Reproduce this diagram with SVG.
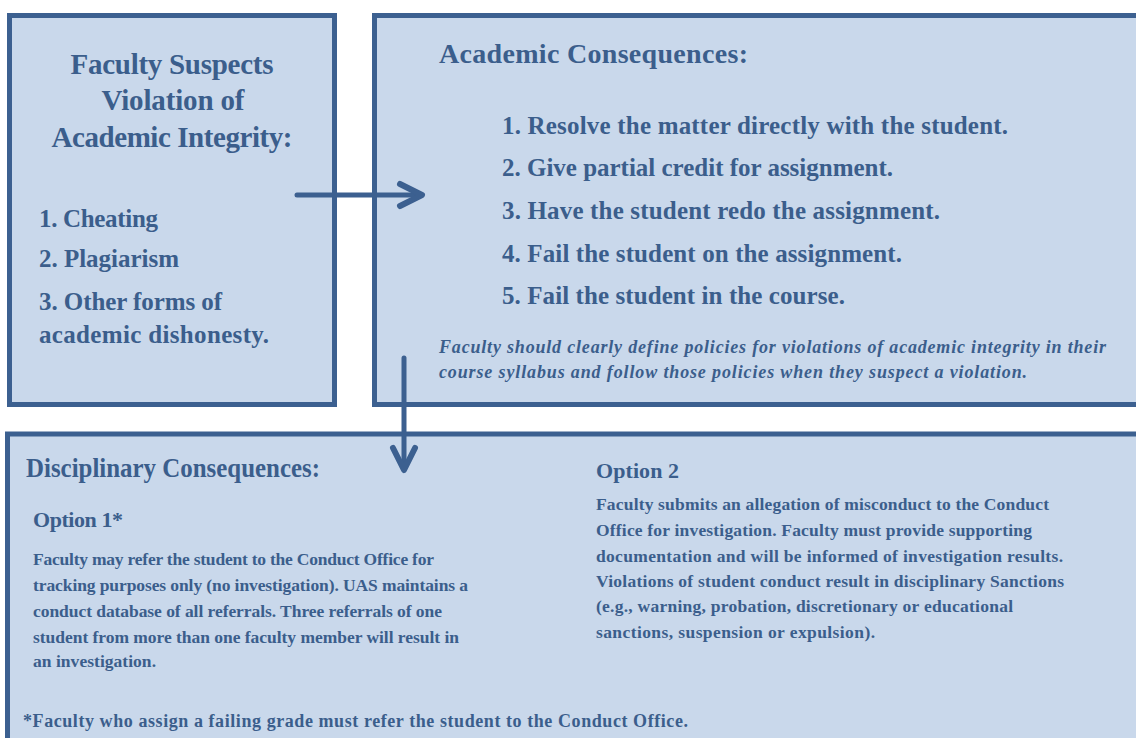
<svg xmlns="http://www.w3.org/2000/svg" width="1136" height="738" viewBox="0 0 1136 738">
<style>
.box{fill:#c9d8eb;stroke:#3c6090;stroke-width:5}
text{font-family:"Liberation Serif","Times New Roman",serif;font-weight:bold;fill:#3b5e8c}
.h{font-size:29px}
.t{font-size:28px}
.dh{font-size:27px}
.li{font-size:25px}
.it{font-size:18px;font-style:italic}
.op{font-size:22px}
.p{font-size:17.5px}
.fn{font-size:18px}
.conn{stroke:#3c6090;fill:none;stroke-linecap:round;stroke-linejoin:round}
</style>
<rect width="1136" height="738" fill="#ffffff"/>
<g id="node-suspects">
<rect class="box" x="9.5" y="15.5" width="325" height="389"/>
<text class="h" x="172" y="74" text-anchor="middle" textLength="203">Faculty Suspects</text>
<text class="h" x="173" y="110" text-anchor="middle" textLength="143">Violation of</text>
<text class="h" x="172" y="147" text-anchor="middle" textLength="241">Academic Integrity:</text>
<text class="li" x="39" y="227" textLength="119">1. Cheating</text>
<text class="li" x="39" y="267" textLength="140">2. Plagiarism</text>
<text class="li" x="39" y="310" textLength="183">3. Other forms of</text>
<text class="li" x="39" y="343" textLength="230">academic dishonesty.</text>
</g>
<g id="node-academic">
<rect class="box" x="374.5" y="15.5" width="780" height="389"/>
<text class="t" x="439" y="63" textLength="309">Academic Consequences:</text>
<text class="li" x="502" y="134" textLength="506">1. Resolve the matter directly with the student.</text>
<text class="li" x="502" y="176" textLength="391">2. Give partial credit for assignment.</text>
<text class="li" x="502" y="219" textLength="438">3. Have the student redo the assignment.</text>
<text class="li" x="502" y="262" textLength="400">4. Fail the student on the assignment.</text>
<text class="li" x="502" y="304" textLength="343">5. Fail the student in the course.</text>
<text class="it" x="439" y="353" textLength="667">Faculty should clearly define policies for violations of academic integrity in their</text>
<text class="it" x="439" y="378" textLength="588">course syllabus and follow those policies when they suspect a violation.</text>
</g>
<g id="node-disciplinary">
<rect class="box" x="7.5" y="434" width="1150" height="330"/>
<text class="dh" x="26" y="477" textLength="294" lengthAdjust="spacingAndGlyphs">Disciplinary Consequences:</text>
<text class="op" x="33" y="527" textLength="90">Option 1*</text>
<text class="p" x="33" y="565" textLength="401">Faculty may refer the student to the Conduct Office for</text>
<text class="p" x="33" y="591" textLength="435">tracking purposes only (no investigation). UAS maintains a</text>
<text class="p" x="33" y="617" textLength="409">conduct database of all referrals. Three referrals of one</text>
<text class="p" x="33" y="643" textLength="426">student from more than one faculty member will result in</text>
<text class="p" x="33" y="667" textLength="123">an investigation.</text>
<text class="op" x="596" y="478" textLength="83">Option 2</text>
<text class="p" x="596" y="510" textLength="453">Faculty submits an allegation of misconduct to the Conduct</text>
<text class="p" x="596" y="536" textLength="436">Office for investigation. Faculty must provide supporting</text>
<text class="p" x="596" y="562" textLength="467">documentation and will be informed of investigation results.</text>
<text class="p" x="596" y="587" textLength="468">Violations of student conduct result in disciplinary Sanctions</text>
<text class="p" x="596" y="612" textLength="417">(e.g., warning, probation, discretionary or educational</text>
<text class="p" x="596" y="638" textLength="279">sanctions, suspension or expulsion).</text>
<text class="fn" x="23" y="727" textLength="665">*Faculty who assign a failing grade must refer the student to the Conduct Office.</text>
</g>
<g id="connectors">
<line class="conn" x1="297" y1="195" x2="419" y2="195" stroke-width="5" stroke-linecap="butt"/>
<polyline class="conn" points="400,184 422,195 400,206" stroke-width="6"/>
<line class="conn" x1="404" y1="358" x2="404" y2="467" stroke-width="5" stroke-linecap="butt"/>
<polyline class="conn" points="393,448 404,470 415,448" stroke-width="6"/>
</g>
</svg>
